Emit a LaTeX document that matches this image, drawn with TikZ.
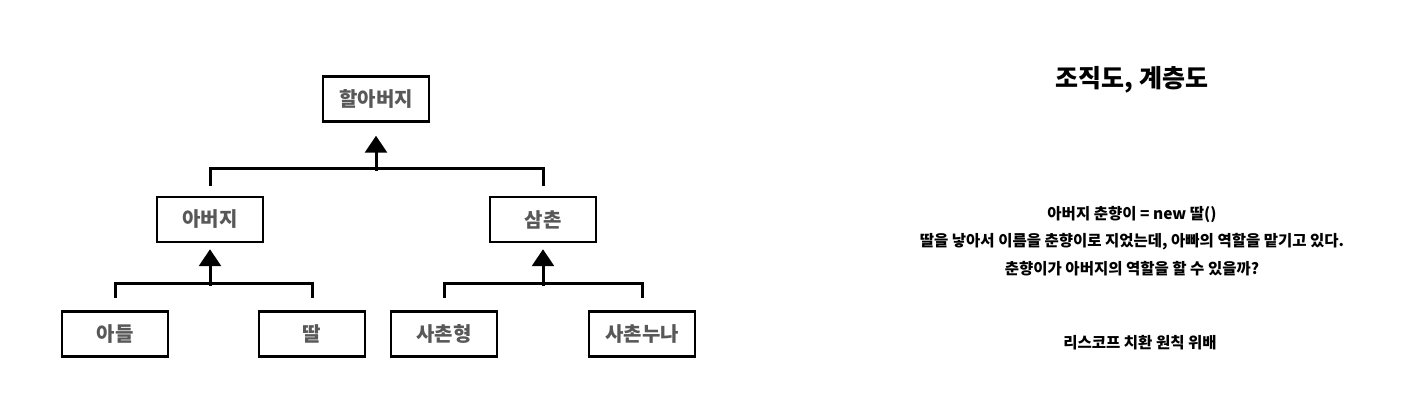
\documentclass[tikz,border=0pt]{standalone}
\usepackage{fontspec}
\setmainfont{Noto Sans CJK KR}
\usetikzlibrary{arrows.meta}
\definecolor{boxtext}{HTML}{585858}
\begin{document}
\begin{tikzpicture}[x=1pt, y=1pt,
        member/.style={draw, black, line width=2.5pt, minimum width=106pt, minimum height=45pt,
            inner sep=0pt, text=boxtext, font=\fontsize{20}{20}\selectfont\bfseries},
        branch/.style={black, line width=3pt},
        inherit/.style={black, line width=3pt, -{Triangle[width=22pt, length=17pt]}}]
        \useasboundingbox (0, 0) rectangle (1406, 406);
        \node[member] (grandpa) at (376, 307) {할아버지};
        \node[member] (father) at (210, 186.5) {아버지};
        \node[member] (uncle) at (543, 186.5) {삼촌};
        \node[member] (son) at (115, 72) {아들};
        \node[member] (daughter) at (312, 72) {딸};
        \node[member] (cousinb) at (444, 72) {사촌형};
        \node[member] (cousins) at (642, 72) {사촌누나};
        \draw[branch] ([yshift=10pt]father.north) -- ++(0, 17) -| ([yshift=10pt]uncle.north);
        \draw[inherit] ([yshift=-48.5pt]grandpa.south) -- ([yshift=-13pt]grandpa.south);
        \draw[branch] ([yshift=12pt]son.north) -- ++(0, 15) -| ([yshift=12pt]daughter.north);
        \draw[inherit] ([yshift=-43pt]father.south) -- ([yshift=-6pt]father.south);
        \draw[branch] ([yshift=12pt]cousinb.north) -- ++(0, 15) -| ([yshift=12pt]cousins.north);
        \draw[inherit] ([yshift=-43pt]uncle.south) -- ([yshift=-6pt]uncle.south);
        \node[font=\fontsize{25}{25}\selectfont\bfseries] (title) at (1132, 326) {조직도, 계층도};
        \node[align=center, font=\fontsize{15.5}{27.5}\selectfont\bfseries] (story) at (1132, 165)
            {아버지 춘향이 = new 딸()\\딸을 낳아서 이름을 춘향이로 지었는데, 아빠의 역할을 맡기고 있다.\\춘향이가 아버지의 역할을 할 수 있을까?};
        \node[font=\fontsize{15.5}{15.5}\selectfont\bfseries] (rule) at (1140, 63) {리스코프 치환 원칙 위배};
    \end{tikzpicture}
\end{document}
